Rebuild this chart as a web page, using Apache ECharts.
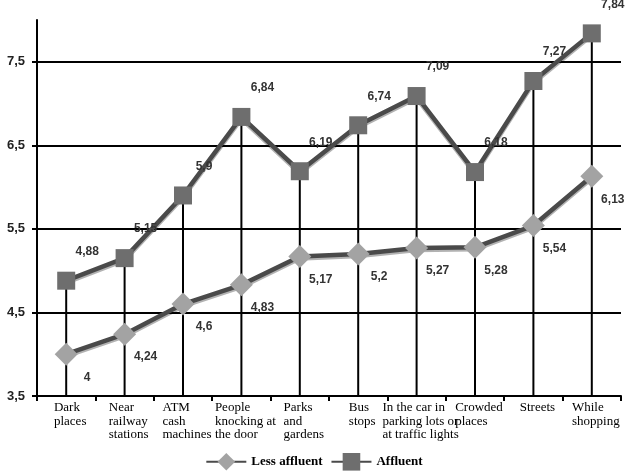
<!DOCTYPE html>
<html><head><meta charset="utf-8">
<script src="https://cdn.jsdelivr.net/npm/echarts@6/dist/echarts.min.js"></script>
<style>html,body{margin:0;padding:0;background:#fff}#c{width:628px;height:476px}</style>
</head><body><div id="c"></div>
<script>
const categories = ['Dark\nplaces', 'Near\nrailway\nstations', 'ATM\ncash\nmachines', 'People\nknocking at\nthe door', 'Parks\nand\ngardens', 'Bus\nstops', 'In the car in\nparking lots or\nat traffic lights', 'Crowded\nplaces', 'Streets', 'While\nshopping'];
const lessAffluent = [4, 4.24, 4.6, 4.83, 5.17, 5.2, 5.27, 5.28, 5.54, 6.13];
const affluent = [4.88, 5.15, 5.9, 6.84, 6.19, 6.74, 7.09, 6.18, 7.27, 7.84];
const yTicks = [3.5, 4.5, 5.5, 6.5, 7.5];
const seriesNames = ['Less affluent', 'Affluent'];

const fmt = v => String(v).replace('.', ',');
const chart = echarts.init(document.getElementById('c'), null, {renderer: 'canvas'});
const dataLabel = {
  show: true, position: 'inside', formatter: p => fmt(p.value),
  fontFamily: 'Liberation Sans', fontSize: 12, fontWeight: 'bold', color: '#333'
};
chart.setOption({
  animation: false,
  backgroundColor: '#fff',
  grid: {left: 37, right: 7, top: 20, bottom: 80},
  legend: {
    data: seriesNames, top: 448, left: 'center', itemWidth: 40, itemHeight: 22, itemGap: 8,
    textStyle: {fontFamily: 'Liberation Serif', fontWeight: 'bold', fontSize: 13, color: '#000'}
  },
  xAxis: {
    type: 'category', data: categories, boundaryGap: true,
    axisLine: {lineStyle: {color: '#000', width: 2}},
    axisTick: {show: true, length: 5, lineStyle: {color: '#000', width: 2}},
    axisLabel: {
      interval: 0, margin: 5, padding: [0, 0, 0, 8],
      formatter: v => v.split('\n').map(l => '{a|' + l + '}').join('\n'),
      rich: {a: {align: 'left', fontFamily: 'Liberation Serif', fontSize: 13, lineHeight: 13.5, color: '#000'}}
    }
  },
  yAxis: {
    type: 'value', min: 3.5, max: 8,
    axisLine: {show: true, lineStyle: {color: '#000', width: 2}},
    axisTick: {show: true, length: 5, customValues: yTicks, lineStyle: {color: '#000', width: 2}},
    splitLine: {show: true, lineStyle: {color: '#000', width: 2}},
    axisLabel: {
      customValues: yTicks,
      margin: 12, fontFamily: 'Liberation Sans', fontSize: 13, fontWeight: 'bold', color: '#222',
      formatter: v => fmt(v)
    }
  },
  series: [
    {
      type: 'bar', data: affluent, barWidth: 2, silent: true, z: 1,
      itemStyle: {color: '#000'}
    },
    {
      name: seriesNames[0], type: 'line', data: lessAffluent, z: 3,
      symbol: 'diamond', symbolSize: 23,
      itemStyle: {color: '#a3a3a3'},
      lineStyle: {color: '#4a4a4a', width: 4.5, shadowColor: 'rgba(0,0,0,0.3)', shadowOffsetY: 2},
      label: Object.assign({offset: [21, 23]}, dataLabel)
    },
    {
      name: seriesNames[1], type: 'line', data: affluent, z: 3,
      symbol: 'rect', symbolSize: 18,
      itemStyle: {color: '#6e6e6e'},
      lineStyle: {color: '#4a4a4a', width: 4.5, shadowColor: 'rgba(0,0,0,0.3)', shadowOffsetY: 2},
      label: Object.assign({offset: [21, -29]}, dataLabel)
    }
  ]
});
</script></body></html>
